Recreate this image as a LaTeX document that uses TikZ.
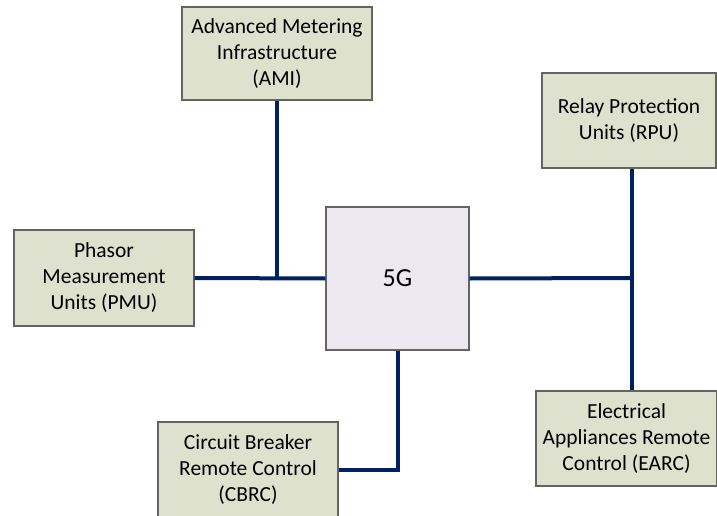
\documentclass[tikz,border=0pt]{standalone}
\usepackage{fontspec}
\setmainfont{Carlito}
\definecolor{navy}{RGB}{0,32,96}
\definecolor{boxfill}{RGB}{221,225,205}
\definecolor{gfill}{RGB}{235,232,242}
\definecolor{boxline}{RGB}{100,100,100}
\begin{document}
\begin{tikzpicture}[x=1pt,y=-1pt,
  dev/.style={draw=boxline,line width=1.3pt,fill=boxfill,align=center,inner sep=0pt,
    font=\fontsize{21.5}{26}\selectfont,text=black},
  hub/.style={draw=boxline,line width=1.3pt,fill=gfill,inner sep=0pt,
    minimum width=143pt,minimum height=143pt,font=\fontsize{26}{30}\selectfont},
  link/.style={draw=navy,line width=4pt}]
\useasboundingbox (0,0) rectangle (717,516);
\node[dev,minimum width=190pt,minimum height=93pt] (ami) at (277,53.5) {Advanced Metering\\Infrastructure\\(AMI)};
\node[dev,minimum width=174pt,minimum height=95pt] (rpu) at (629,120.5) {Relay Protection\\Units (RPU)};
\node[dev,minimum width=180pt,minimum height=96pt] (pmu) at (104,278) {Phasor\\Measurement\\Units (PMU)};
\node[hub] (g) at (397.5,278.5) {5G};
\node[dev,minimum width=181pt,minimum height=95pt] (earc) at (626.5,438.5) {Electrical\\Appliances Remote\\Control (EARC)};
\node[dev,minimum width=180pt,minimum height=95pt] (cbrc) at (248,469.5) {Circuit Breaker\\Remote Control\\(CBRC)};
\coordinate (j2) at (632,278);
\draw[link] (ami.south) -- (ami.south |- pmu.east);
\draw[link] (pmu.east) -- (g.west);
\draw[link] (g.east) -- (j2);
\draw[link] (rpu.south -| j2) -- (earc.north -| j2);
\draw[link] (g.south) -- (g.south |- cbrc.east) -- (cbrc.east);
\end{tikzpicture}
\end{document}
